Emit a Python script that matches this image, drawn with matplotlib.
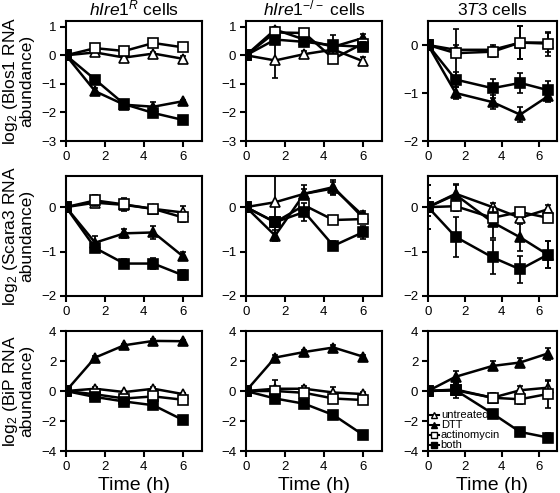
import matplotlib
matplotlib.use('Agg')
import matplotlib.pyplot as plt
from matplotlib.lines import Line2D

plt.rcParams['font.family'] = ['Liberation Sans', 'DejaVu Sans']
plt.rcParams['mathtext.fontset'] = 'custom'
plt.rcParams['mathtext.rm'] = 'Liberation Sans'
plt.rcParams['mathtext.it'] = 'Liberation Sans:italic'

# time points (h)
t_hire = [0, 1.5, 3, 4.5, 6]
t_3t3 = [0, 1.5, 3.5, 5, 6.5]

treatments = ['untreated', 'DTT', 'actinomycin', 'both']

# Blos1
blos1_R = {'untreated': [0, 0.1, -0.08, 0.06, -0.12],
           'DTT': [0, -1.26, -1.73, -1.8, -1.61],
           'actinomycin': [0, 0.25, 0.15, 0.43, 0.28],
           'both': [0, -0.85, -1.71, -2.02, -2.26]}
blos1_R_err = {'untreated': [0.05, 0.05, 0.08, 0.05, 0.08],
               'DTT': [0.05, 0.1, 0.08, 0.15, 0.06],
               'actinomycin': [0.05, 0.08, 0.1, 0.05, 0.06],
               'both': [0.05, 0.06, 0.08, 0.1, 0.1]}
blos1_KO = {'untreated': [0, -0.18, 0.04, 0.2, -0.2],
            'DTT': [0, 0.9, 0.55, 0.3, 0.6],
            'actinomycin': [0, 0.8, 0.78, -0.12, 0.4],
            'both': [0, 0.55, 0.47, 0.35, 0.3]}
blos1_KO_err = {'untreated': [0.05, 0.6, 0.1, 0.1, 0.15],
                'DTT': [0.05, 0.1, 0.1, 0.4, 0.15],
                'actinomycin': [0.05, 0.1, 0.05, 0.15, 0.1],
                'both': [0.05, 0.1, 0.1, 0.15, 0.15]}
blos1_3T3 = {'untreated': [0, -0.1, -0.1, 0.05, 0.05],
             'DTT': [0, -1.0, -1.19, -1.45, -1.07],
             'actinomycin': [0, -0.17, -0.14, 0.05, 0.03],
             'both': [0, -0.72, -0.9, -0.79, -0.94]}
blos1_3T3_err = {'untreated': [0.1, 0.1, 0.1, 0.35, 0.2],
                 'DTT': [0.1, 0.12, 0.15, 0.15, 0.12],
                 'actinomycin': [0.1, 0.5, 0.1, 0.35, 0.25],
                 'both': [0.1, 0.15, 0.2, 0.2, 0.2]}

# Scara3
scara3_R = {'untreated': [0, 0.1, 0.05, -0.04, -0.12],
            'DTT': [0, -0.8, -0.59, -0.57, -1.1],
            'actinomycin': [0, 0.15, 0.06, -0.04, -0.23],
            'both': [0, -0.92, -1.27, -1.27, -1.53]}
scara3_R_err = {'untreated': [0.05, 0.1, 0.1, 0.08, 0.15],
                'DTT': [0.05, 0.15, 0.1, 0.15, 0.08],
                'actinomycin': [0.05, 0.12, 0.15, 0.06, 0.1],
                'both': [0.05, 0.1, 0.1, 0.12, 0.12]}
scara3_KO = {'untreated': [0, 0.11, 0.3, 0.42, -0.18],
             'DTT': [0, -0.64, 0.3, 0.45, -0.23],
             'actinomycin': [0, -0.34, 0.04, -0.29, -0.27],
             'both': [0, -0.34, -0.11, -0.87, -0.57]}
scara3_KO_err = {'untreated': [0.05, 0.7, 0.1, 0.15, 0.1],
                 'DTT': [0.05, 0.12, 0.2, 0.15, 0.1],
                 'actinomycin': [0.05, 0.1, 0.1, 0.1, 0.08],
                 'both': [0.05, 0.1, 0.2, 0.1, 0.15]}
scara3_3T3 = {'untreated': [0, 0.3, 0.0, -0.24, -0.05],
              'DTT': [0, 0.28, -0.34, -0.68, -1.07],
              'actinomycin': [0, 0.02, -0.24, -0.11, -0.24],
              'both': [0, -0.67, -1.13, -1.4, -1.07]}
scara3_3T3_err = {'untreated': [0.5, 0.2, 0.1, 0.1, 0.1],
                  'DTT': [0.5, 0.25, 0.35, 0.3, 0.3],
                  'actinomycin': [0.2, 0.1, 0.1, 0.1, 0.1],
                  'both': [0.2, 0.45, 0.38, 0.3, 0.3]}

# BiP
bip_R = {'untreated': [0, 0.15, -0.07, 0.15, -0.2],
         'DTT': [0, 2.23, 3.05, 3.34, 3.32],
         'actinomycin': [0, -0.22, -0.5, -0.36, -0.58],
         'both': [0, -0.4, -0.7, -0.95, -1.92]}
bip_R_err = {'untreated': [0.1, 0.1, 0.1, 0.1, 0.1],
             'DTT': [0.1, 0.1, 0.1, 0.1, 0.1],
             'actinomycin': [0.1, 0.1, 0.1, 0.1, 0.1],
             'both': [0.1, 0.1, 0.1, 0.1, 0.1]}
bip_KO = {'untreated': [0, 0.15, 0.15, -0.1, -0.2],
          'DTT': [0, 2.23, 2.6, 2.9, 2.3],
          'actinomycin': [0, 0.0, -0.12, -0.5, -0.6],
          'both': [0, -0.5, -0.85, -1.6, -2.9]}
bip_KO_err = {'untreated': [0.1, 0.6, 0.2, 0.4, 0.15],
              'DTT': [0.1, 0.15, 0.15, 0.15, 0.1],
              'actinomycin': [0.1, 0.1, 0.1, 0.15, 0.1],
              'both': [0.1, 0.1, 0.1, 0.1, 0.1]}
bip_3T3 = {'untreated': [0, 0.05, -0.45, 0.05, 0.22],
           'DTT': [0, 0.95, 1.67, 1.9, 2.5],
           'actinomycin': [0, 0.1, -0.45, -0.55, -0.2],
           'both': [0, 0.05, -1.5, -2.73, -3.1]}
bip_3T3_err = {'untreated': [0.3, 0.3, 0.2, 0.3, 0.5],
               'DTT': [0.2, 0.4, 0.3, 0.3, 0.4],
               'actinomycin': [0.2, 0.3, 0.3, 0.3, 0.9],
               'both': [0.2, 0.5, 0.15, 0.15, 0.3]}

titles = [r'$\mathit{hIre1}^{\mathit{R}}$ cells',
          r'$\mathit{hIre1}^{\mathit{-/-}}$ cells',
          r'$\mathit{3T3}$ cells']
ylabels = ['log$_2$ (Blos1 RNA\nabundance)',
           'log$_2$ (Scara3 RNA\nabundance)',
           'log$_2$ (BiP RNA\nabundance)']

panels = [[(t_hire, blos1_R, blos1_R_err), (t_hire, blos1_KO, blos1_KO_err), (t_3t3, blos1_3T3, blos1_3T3_err)],
          [(t_hire, scara3_R, scara3_R_err), (t_hire, scara3_KO, scara3_KO_err), (t_3t3, scara3_3T3, scara3_3T3_err)],
          [(t_hire, bip_R, bip_R_err), (t_hire, bip_KO, bip_KO_err), (t_3t3, bip_3T3, bip_3T3_err)]]

ylims = [[(-3, 1.2), (-3, 1.2), (-2, 0.5)],
         [(-2, 0.7), (-2, 0.7), (-2, 0.7)],
         [(-4, 4), (-4, 4), (-4, 4)]]
yticks = [[[-3, -2, -1, 0, 1], [-3, -2, -1, 0, 1], [-2, -1, 0]],
          [[-2, -1, 0]] * 3,
          [[-4, -2, 0, 2, 4]] * 3]

styles = {'untreated': dict(marker='^', mfc='white'),
          'DTT': dict(marker='^', mfc='black'),
          'actinomycin': dict(marker='s', mfc='white'),
          'both': dict(marker='s', mfc='black')}

W, H = 560, 493
col_left = [66, 246, 428]
col_width = [136, 136, 129]
row_top = [21, 176, 331]
row_h = 120

fig = plt.figure(figsize=(5.6, 4.93), dpi=100)

for r in range(3):
    for c in range(3):
        ax = fig.add_axes([col_left[c] / W, 1 - (row_top[r] + row_h) / H,
                           col_width[c] / W, row_h / H])
        t, vals, errs = panels[r][c]
        for i, name in enumerate(treatments):
            ax.errorbar(t, vals[name], yerr=errs[name], color='black', lw=1.8,
                        ms=6.5, mec='black', mew=1.2, elinewidth=1.3,
                        capsize=2, capthick=1.3, zorder=2 + i,
                        **styles[name])
        ax.set_xlim(0, 7)
        ax.set_ylim(*ylims[r][c])
        ax.set_xticks([0, 2, 4, 6])
        ax.set_yticks(yticks[r][c])
        for s in ax.spines.values():
            s.set_linewidth(1.5)
        ax.tick_params(direction='out', length=4, width=1.5, labelsize=9.5,
                       pad=3)
        if r == 0:
            ax.set_title(titles[c], fontsize=12.5, pad=4)
        if c == 0:
            ax.set_ylabel(ylabels[r], fontsize=12.5, labelpad=5,
                          linespacing=0.95)
        if r == 2:
            ax.set_xlabel('Time (h)', fontsize=14, labelpad=3)
        if r == 2 and c == 2:
            handles = [Line2D([], [], color='black', lw=1.5, ms=5, mec='black',
                              mew=1.0, **styles[name]) for name in treatments]
            ax.legend(handles, treatments, loc='lower left', frameon=False,
                      fontsize=8, handlelength=0.9, handletextpad=0.2,
                      labelspacing=0.0, borderaxespad=0.05, borderpad=0.0)

fig.savefig('out.png', dpi=100)
